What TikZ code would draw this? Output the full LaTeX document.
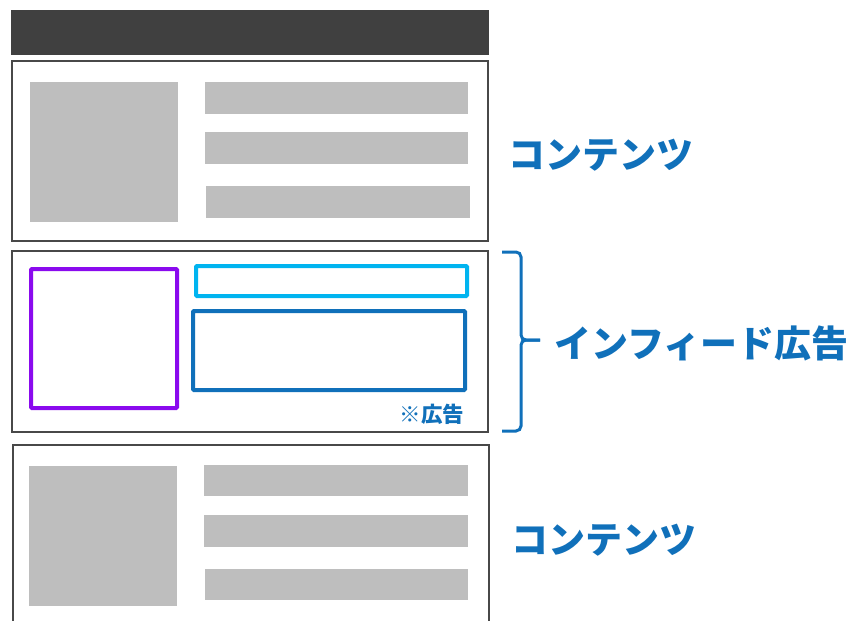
\documentclass[tikz,border=0pt]{standalone}
\usepackage{fontspec}
\newfontfamily\jp{Noto Sans CJK JP}
\definecolor{barcol}{HTML}{404040}
\definecolor{frame}{HTML}{484848}
\definecolor{ph}{HTML}{BEBEBE}
\definecolor{adpurple}{HTML}{8A0AEE}
\definecolor{adcyan}{HTML}{00B4F0}
\definecolor{adblue}{HTML}{1070BA}
\tikzset{
  card/.style={draw=frame, line width=2pt, fill=white},
  phbox/.style={fill=ph},
  adbox/.style={line width=4pt, rounded corners=1pt},
  lab/.style={text=adblue, font=\jp\bfseries\fontsize{37}{39}\selectfont, inner sep=0pt},
  smalllab/.style={text=adblue, font=\jp\bfseries\fontsize{21.5}{23}\selectfont, inner sep=0pt},
}
\begin{document}
\begin{tikzpicture}[x=1pt,y=-1pt]
\useasboundingbox (0,0) rectangle (855,621);
% header bar
\fill[barcol] (11,10) rectangle (489,55);
% content card 1
\draw[card] (12,61) rectangle (488,241);
\fill[phbox] (30,82) rectangle (178,222);
\fill[phbox] (205,82) rectangle (468,114);
\fill[phbox] (205,132) rectangle (468,164);
\fill[phbox] (206,186) rectangle (470,218);
\node[lab] (c1) at (601,155) {コンテンツ};
% ad card
\draw[card] (12,251) rectangle (488,432);
\draw[adbox, draw=adpurple] (31,269) rectangle (177,408);
\draw[adbox, draw=adcyan] (196,266) rectangle (467,296);
\draw[adbox, draw=adblue] (193,311) rectangle (465,390);
\node[smalllab] (note) at (432,414) {※広告};
% brace
\coordinate (tip) at (540,340);
\draw[adblue, line width=3pt, rounded corners=5pt] (502,252) -- (521,252) -- (521,340) -- (tip);
\draw[adblue, line width=3pt, rounded corners=5pt] (502,431) -- (521,431) -- (521,340) -- (tip);
\node[lab, anchor=west] (ad) at (554,343) {インフィード広告};
% content card 2
\draw[card] (13,445) rectangle (489,640);
\fill[phbox] (29,466) rectangle (177,606);
\fill[phbox] (204,465) rectangle (468,496);
\fill[phbox] (204,515) rectangle (468,547);
\fill[phbox] (205,569) rectangle (468,600);
\node[lab] (c2) at (604,540) {コンテンツ};
\end{tikzpicture}
\end{document}
